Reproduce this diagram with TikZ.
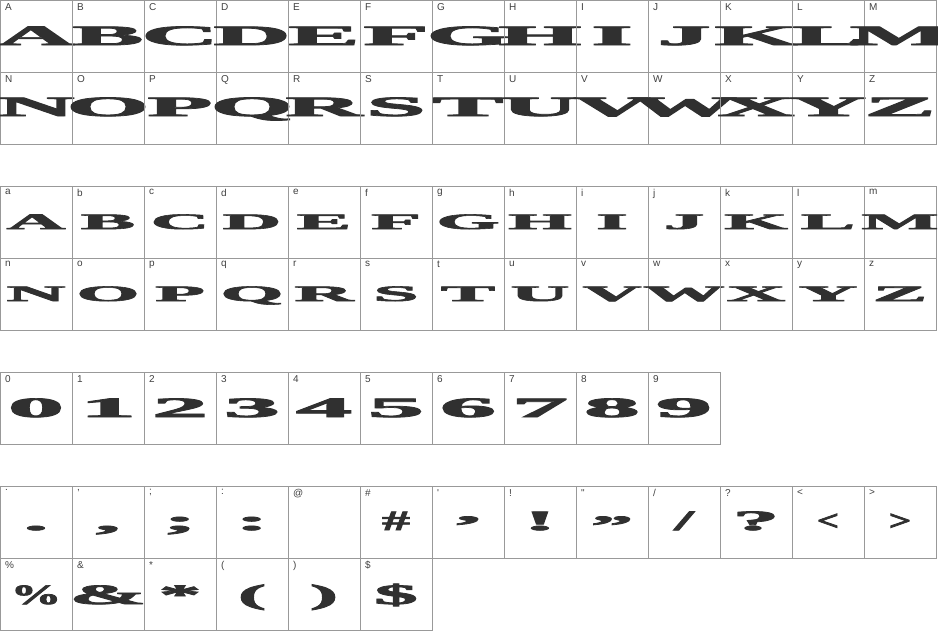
\documentclass[tikz,border=0pt]{standalone}
\usepackage{fontspec}
\setmainfont{Liberation Serif}
\newfontfamily\labelfont{Liberation Sans}
\newfontfamily\heavyfont[FakeBold=2.5]{Liberation Serif Bold}
\definecolor{glyphgray}{HTML}{303030}
\tikzset{
  cellbox/.style={draw=black!40, line width=0.6pt},
  charlabel/.style={anchor=north west, inner sep=0pt, font=\labelfont\fontsize{10}{10}\selectfont, text=black!75},
  glyph/.style={anchor=base, inner sep=0pt, text=glyphgray, font=\heavyfont\fontsize{#1}{#1}\selectfont},
  glyph/.default=26
}
\newcommand{\wide}[2]{\scalebox{#1}[1]{#2}}
% one cell: column, row top, baseline, label, glyph, size, stretch
\newcommand{\charcell}[7]{%
  \draw[cellbox] (#1*72,#2) rectangle ++(72,72);
  \node[charlabel] (lab-#1-#2) at (#1*72+5,#2+3) {#4};
  \node[glyph=#6] (gly-#1-#2) at (#1*72+36,#3) {\wide{#7}{#5}};
}
\begin{document}
\begin{tikzpicture}[x=1pt,y=-1pt]
\useasboundingbox (0,0) rectangle (938,633);
\clip (0,0) rectangle (938,633);
% capitals
\foreach \ch [count=\i from 0] in {A,B,C,D,E,F,G,H,I,J,K,L,M}
  {\charcell{\i}{0}{45}{\ch}{\ch}{28}{3.8}}
\foreach \ch [count=\i from 0] in {N,O,P,Q,R,S,T,U,V,W,X,Y,Z}
  {\charcell{\i}{72}{116}{\ch}{\ch}{28}{3.8}}
% small letters
\foreach \ch/\up [count=\i from 0] in {a/A,b/B,c/C,d/D,e/E,f/F,g/G,h/H,i/I,j/J,k/K,l/L,m/M}
  {\charcell{\i}{186}{229}{\ch}{\up}{22}{3.7}}
\foreach \ch/\up [count=\i from 0] in {n/N,o/O,p/P,q/Q,r/R,s/S,t/T,u/U,v/V,w/W,x/X,y/Y,z/Z}
  {\charcell{\i}{258}{301}{\ch}{\up}{22}{3.7}}
% figures
\foreach \ch [count=\i from 0] in {0,1,2,3,4,5,6,7,8,9}
  {\charcell{\i}{372}{417}{\ch}{\ch}{28}{4.0}}
% signs
\charcell{0}{486}{530}{.}{.}{28}{3.5}
\charcell{1}{486}{530}{,}{,}{28}{3.5}
\charcell{2}{486}{530}{;}{;}{28}{3.5}
\charcell{3}{486}{530}{:}{:}{28}{3.5}
\charcell{4}{486}{530}{@}{}{28}{3.5}
\charcell{5}{486}{530}{\#}{\#}{28}{2.0}
\charcell{6}{486}{535}{'}{’}{28}{3.5}
\charcell{7}{486}{530}{!}{!}{28}{3.5}
\charcell{8}{486}{535}{"}{”}{28}{3.0}
\charcell{9}{486}{530}{/}{/}{28}{2.5}
\charcell{10}{486}{530}{?}{?}{28}{3.3}
\charcell{11}{486}{530}{<}{<}{28}{1.4}
\charcell{12}{486}{530}{>}{>}{28}{1.4}
\charcell{0}{558}{604}{\%}{\%}{28}{1.8}
\charcell{1}{558}{604}{\&}{\&}{28}{3.3}
\charcell{2}{558}{604}{*}{*}{28}{3.0}
\charcell{3}{558}{604}{(}{(}{28}{3.0}
\charcell{4}{558}{604}{)}{)}{28}{3.0}
\charcell{5}{558}{604}{\$}{\$}{28}{3.1}
\end{tikzpicture}
\end{document}
